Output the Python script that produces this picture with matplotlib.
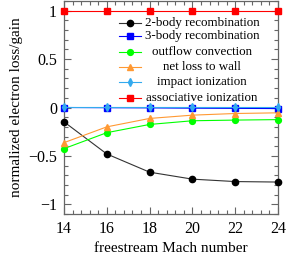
import matplotlib
matplotlib.use("Agg")
import matplotlib.pyplot as plt
from matplotlib.ticker import MultipleLocator
from matplotlib.lines import Line2D

mach = [14, 16, 18, 20, 22, 24]
two_body = [-0.148, -0.48, -0.668, -0.74, -0.765, -0.77]
three_body = [0.0, -0.002, -0.004, -0.007, -0.009, -0.011]
outflow = [-0.425, -0.26, -0.175, -0.137, -0.13, -0.125]
wall = [-0.363, -0.2, -0.113, -0.079, -0.062, -0.055]
impact = [0.006, 0.006, 0.006, 0.006, 0.006, 0.006]
assoc = [1.0, 1.0, 1.0, 1.0, 1.0, 1.0]

labels = ["2-body recombination", "3-body recombination", "outflow convection",
          "net loss to wall", "impact ionization", "associative ionization"]
series = [two_body, three_body, outflow, wall, impact, assoc]
colors = ["#000000", "#0000ff", "#00ff00", "#ff9933", "#33aaee", "#ff0000"]
linecolors = ["#333333", "#0000ff", "#00ff00", "#ff9933", "#33aaee", "#ff0000"]
markers = ["o", "s", "o", "^", "d", "s"]
msizes = [4.5, 4.3, 4.2, 4.2, 3.8, 4.5]

plt.rcParams['font.family'] = ['Liberation Serif', 'DejaVu Serif']
plt.rcParams['mathtext.fontset'] = 'stix'

fig = plt.figure(figsize=(2.91, 2.57), dpi=100)
ax = fig.add_axes([64/291, 1-214/257, (278-64)/291, (214-1)/257])

for y, c, lc, m, ms in zip(series, colors, linecolors, markers, msizes):
    ax.plot(mach, y, color=lc, lw=0.8, marker=m, ms=ms, mfc=c, mec=c, clip_on=False, zorder=3)

ax.set_xlim(14, 24)
ax.set_ylim(-1.1, 1.1)
ax.xaxis.set_major_locator(MultipleLocator(2))
ax.xaxis.set_minor_locator(MultipleLocator(0.4))
ax.yaxis.set_major_locator(MultipleLocator(0.5))
ax.yaxis.set_minor_locator(MultipleLocator(0.1))
ax.set_yticks([-1, -0.5, 0, 0.5, 1])
ax.set_yticklabels(["\u22121", "\u22120.5", "0", "0.5", "1"])
ax.tick_params(which='both', direction='in', top=True, right=True, labelsize=11.5,
               color='#666666', width=0.8)
ax.tick_params(which='major', length=5, pad=5)
ax.tick_params(which='minor', length=3)
for s in ax.spines.values():
    s.set_color('#666666')
    s.set_linewidth(0.9)

ax.set_xlabel("freestream Mach number", fontsize=11, labelpad=3.5)
ax.set_ylabel("normalized electron loss/gain", fontsize=11, labelpad=4)

# legend (gnuplot style: sample on the left, centered text)
rows_y = [22.7, 36.3, 52, 67, 82, 98]
for ry, c, lc, m, ms, lab in zip(rows_y, colors, linecolors, markers, msizes, labels):
    yf = 1 - ry/257
    x0, x1 = 119/291, 141/291
    fig.add_artist(Line2D([x0, x1], [yf, yf], transform=fig.transFigure, color=lc, lw=0.8))
    fig.add_artist(Line2D([(x0+x1)/2], [yf], transform=fig.transFigure, color=c,
                          marker=m, ms=ms, mfc=c, mec=c, lw=0))
    fig.text(202/291, yf, lab, ha='center', va='center', fontsize=9.4)

fig.savefig("out.png", dpi=100)
